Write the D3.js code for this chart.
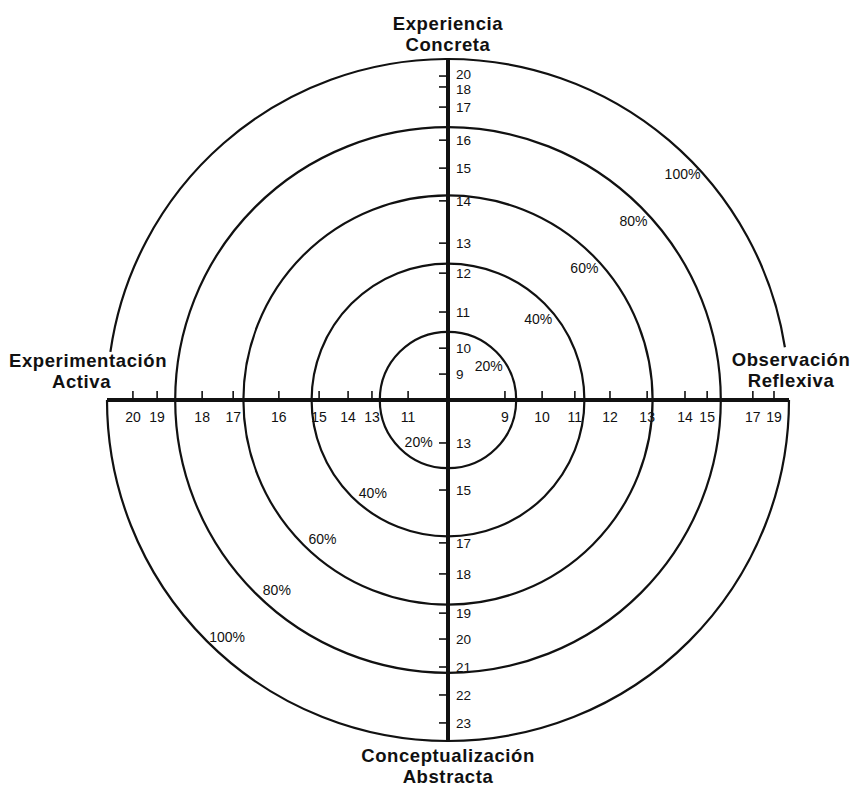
<!DOCTYPE html>
<html>
<head>
<meta charset="utf-8">
<script src="https://cdn.jsdelivr.net/npm/d3@7/dist/d3.min.js"></script>
<style>
  html, body { margin: 0; padding: 0; background: #fff; }
  svg { display: block; }
  text { font-family: "Liberation Sans", Arial, Helvetica, sans-serif; fill: #111; }
</style>
</head>
<body>
<svg id="chart" width="854" height="786"></svg>
<script>
// ---- data ----
const ringPercents = [20, 40, 60, 80, 100];

// Experiencia Concreta (up)
const ceTicks = [9, 10, 11, 12, 13, 14, 15, 16, 17, 18, 20];
const cePct   = [7.6, 15.2, 25.8, 37.2, 46.0, 58.4, 68.0, 76.2, 85.9, 91.8, 95.0];

// Conceptualización Abstracta (down)
const acTicks = [13, 15, 17, 18, 19, 20, 21, 22, 23];
const acPct   = [12.6, 26.4, 41.9, 51.0, 62.5, 70.1, 78.3, 86.5, 94.7];

// Experimentación Activa (left)
const aeTicks = [11, 13, 14, 15, 16, 17, 18, 19, 20];
const aePct   = [11.7, 22.3, 29.3, 37.8, 49.6, 63.0, 72.1, 85.3, 92.4];

// Observación Reflexiva (right)
const roTicks = [9, 10, 11, 12, 13, 14, 15, 17, 19];
const roPct   = [16.7, 27.6, 37.2, 47.5, 58.4, 69.5, 76.0, 89.4, 95.6];

const titles = {
  top: ["Experiencia", "Concreta"],
  bottom: ["Conceptualización", "Abstracta"],
  left: ["Experimentación", "Activa"],
  right: ["Observación", "Reflexiva"]
};

// ---- layout ----
const svg = d3.select("#chart");
const cx = 448, cy = 400, R = 341;
const r = d3.scaleLinear().domain([0, 100]).range([0, R]);

const g = svg.append("g");

// rings (inner four complete)
g.selectAll("circle.ring")
  .data(ringPercents.slice(0, 4))
  .join("circle")
  .attr("class", "ring")
  .attr("cx", cx).attr("cy", cy)
  .attr("r", d => r(d))
  .attr("fill", "none")
  .attr("stroke", "#111")
  .attr("stroke-width", 2.2);

// outer ring with gaps near side titles
const deg = Math.PI / 180;
const outer = d3.path();
outer.arc(cx, cy, r(100), 0, Math.PI, false);
outer.moveTo(cx + r(100) * Math.cos(-171.9 * deg), cy + r(100) * Math.sin(-171.9 * deg));
outer.arc(cx, cy, r(100), -171.9 * deg, -8.9 * deg, false);
g.append("path")
  .attr("d", outer.toString())
  .attr("fill", "none")
  .attr("stroke", "#111")
  .attr("stroke-width", 2.2);

// axes
g.append("line")
  .attr("x1", cx).attr("x2", cx)
  .attr("y1", cy - r(100)).attr("y2", cy + r(100))
  .attr("stroke", "#111").attr("stroke-width", 4);
g.append("line")
  .attr("x1", cx - r(100)).attr("x2", cx + r(100))
  .attr("y1", cy).attr("y2", cy)
  .attr("stroke", "#111").attr("stroke-width", 4);

// spread label positions that are too close together
function spread(vals, minGap) {
  const out = vals.slice();
  for (let k = 0; k < 5; k++) {
    for (let i = 1; i < out.length; i++) {
      const d = Math.abs(out[i] - out[i - 1]);
      if (d < minGap) {
        const s = Math.sign(out[i] - out[i - 1]) || 1;
        const push = (minGap - d) / 2;
        out[i] += s * push;
        out[i - 1] -= s * push;
      }
    }
  }
  return out;
}

// tick helpers
function vTicks(ticks, pcts, dir) {
  const pos = d3.scaleLinear().domain(ticks).range(pcts.map(p => cy + dir * r(p)));
  const lab = spread(ticks.map(pos), 15);
  const gg = g.append("g");
  gg.selectAll("line").data(ticks).join("line")
    .attr("x1", cx - 9).attr("x2", cx + 2)
    .attr("y1", d => pos(d)).attr("y2", d => pos(d))
    .attr("stroke", "#111").attr("stroke-width", 1.6);
  gg.selectAll("text").data(ticks).join("text")
    .attr("x", cx + 8).attr("y", (d, i) => lab[i])
    .attr("dy", "0.36em")
    .attr("font-size", 13.5)
    .text(d => d);
}
function hTicks(ticks, pcts, dir) {
  const pos = d3.scaleLinear().domain(ticks).range(pcts.map(p => cx + dir * r(p)));
  const gg = g.append("g");
  gg.selectAll("line").data(ticks).join("line")
    .attr("y1", cy - 9).attr("y2", cy + 2)
    .attr("x1", d => pos(d)).attr("x2", d => pos(d))
    .attr("stroke", "#111").attr("stroke-width", 1.6);
  gg.selectAll("text").data(ticks).join("text")
    .attr("x", d => pos(d)).attr("y", cy + 17)
    .attr("dy", "0.36em")
    .attr("text-anchor", "middle")
    .attr("font-size", 14)
    .text(d => d);
}
vTicks(ceTicks, cePct, -1);
vTicks(acTicks, acPct, 1);
hTicks(aeTicks, aePct, -1);
hTicks(roTicks, roPct, 1);

// percent labels
const upAngle = [40, 42, 44, 44, 44];
const dnAngle = [55, 51, 48, 48, 47];
g.selectAll("text.pu").data(ringPercents).join("text")
  .attr("class", "pu")
  .attr("x", (d, i) => cx + (r(d) - 15) * Math.cos(upAngle[i] * deg))
  .attr("y", (d, i) => cy - (r(d) - 15) * Math.sin(upAngle[i] * deg))
  .attr("dy", "0.36em").attr("text-anchor", "middle")
  .attr("font-size", 14)
  .text(d => d + "%");
g.selectAll("text.pd").data(ringPercents).join("text")
  .attr("class", "pd")
  .attr("x", (d, i) => cx - (r(d) - 17) * Math.cos(dnAngle[i] * deg))
  .attr("y", (d, i) => cy + (r(d) - 17) * Math.sin(dnAngle[i] * deg))
  .attr("dy", "0.36em").attr("text-anchor", "middle")
  .attr("font-size", 14)
  .text(d => d + "%");

// titles
function title(lines, x, y, anchor, xs) {
  lines.forEach((t, i) => {
    svg.append("text")
      .attr("x", xs ? xs[i] : x).attr("y", y + i * 21)
      .attr("dy", "0.36em")
      .attr("text-anchor", anchor)
      .attr("font-size", 18.5)
      .attr("font-weight", "bold")
      .attr("letter-spacing", 0.6)
      .text(t);
  });
}
title(titles.top, cx, 23, "middle");
title(titles.bottom, cx, 755, "middle");
title(titles.left, 0, 360, "start", [9, 52]);
title(titles.right, 791, 359, "middle");
</script>
</body>
</html>
